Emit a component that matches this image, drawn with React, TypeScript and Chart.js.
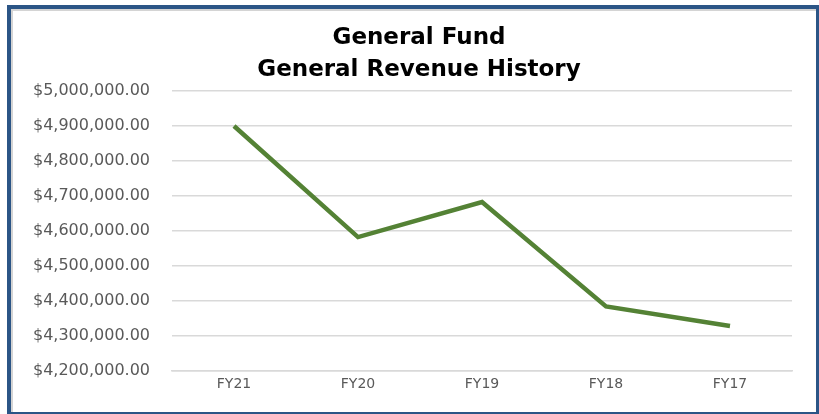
import React, { useEffect, useRef } from "react";
import { Chart, registerables } from "chart.js";

Chart.register(...registerables);

const categories = ["FY21", "FY20", "FY19", "FY18", "FY17"];
const revenue = [4900000, 4583000, 4683000, 4385000, 4329000];
const titleLines = ["General Fund", "General Revenue History"];
const yMin = 4200000;
const yMax = 5000000;
const yStep = 100000;

const fmt = (v: number) =>
  "$" + v.toLocaleString("en-US", { minimumFractionDigits: 2, maximumFractionDigits: 2 });

const frameTitle = {
  id: "frameTitle",
  afterDraw(chart: any) {
    const ctx = chart.ctx;
    ctx.save();
    ctx.fillStyle = "#000000";
    ctx.font = "bold 23px 'DejaVu Sans'";
    ctx.textAlign = "center";
    ctx.textBaseline = "middle";
    const cx = 419;
    titleLines.forEach((line, i) => ctx.fillText(line, cx, 38 + i * 32));
    ctx.restore();
  },
};

export default function App() {
  const ref = useRef<HTMLCanvasElement | null>(null);
  useEffect(() => {
    if (!ref.current) return;
    const chart = new Chart(ref.current, {
      type: "line",
      data: {
        labels: categories,
        datasets: [
          {
            label: "General Revenue",
            data: revenue,
            borderColor: "#548235",
            borderWidth: 4.5,
            pointRadius: 0,
            tension: 0,
            fill: false,
          },
        ],
      },
      options: {
        animation: false,
        responsive: false,
        maintainAspectRatio: false,
        layout: { padding: { top: 91, left: 0, right: 27, bottom: 16 } },
        plugins: {
          legend: { display: false },
          tooltip: { enabled: false },
          title: { display: false },
        },
        scales: {
          x: {
            offset: true,
            grid: { display: false, drawTicks: false, tickLength: 0 },
            border: { display: true, color: "#d9d9d9", width: 1.5 },
            ticks: {
              color: "#595959",
              font: { family: "DejaVu Sans", size: 14 },
              padding: 5,
            },
          },
          y: {
            min: yMin,
            max: yMax,
            afterFit: (axis: any) => {
              axis.width = 172;
            },
            border: { display: false },
            grid: { color: "#d9d9d9", lineWidth: 1.5, drawTicks: false },
            ticks: {
              stepSize: yStep,
              color: "#595959",
              font: { family: "DejaVu Sans", size: 16 },
              padding: 22,
              callback: (v: any) => fmt(Number(v)),
            },
          },
        },
      },
      plugins: [frameTitle],
    });
    return () => chart.destroy();
  }, []);
  return (
    <div style={{ position: "fixed", left: 0, top: 0, width: 819, height: 414, background: "#fff" }}>
      <canvas ref={ref} width={819} height={414} style={{ position: "absolute", left: 0, top: 0 }} />
      <div
        style={{
          position: "absolute",
          left: 7,
          top: 5,
          width: 812,
          height: 409,
          boxSizing: "border-box",
          borderStyle: "solid",
          borderColor: "#2b5586",
          borderWidth: "4px 3px 2px 4px",
          boxShadow: "inset 1px 1px 0 1px #d4d4d4",
          pointerEvents: "none",
        }}
      />
    </div>
  );
}
